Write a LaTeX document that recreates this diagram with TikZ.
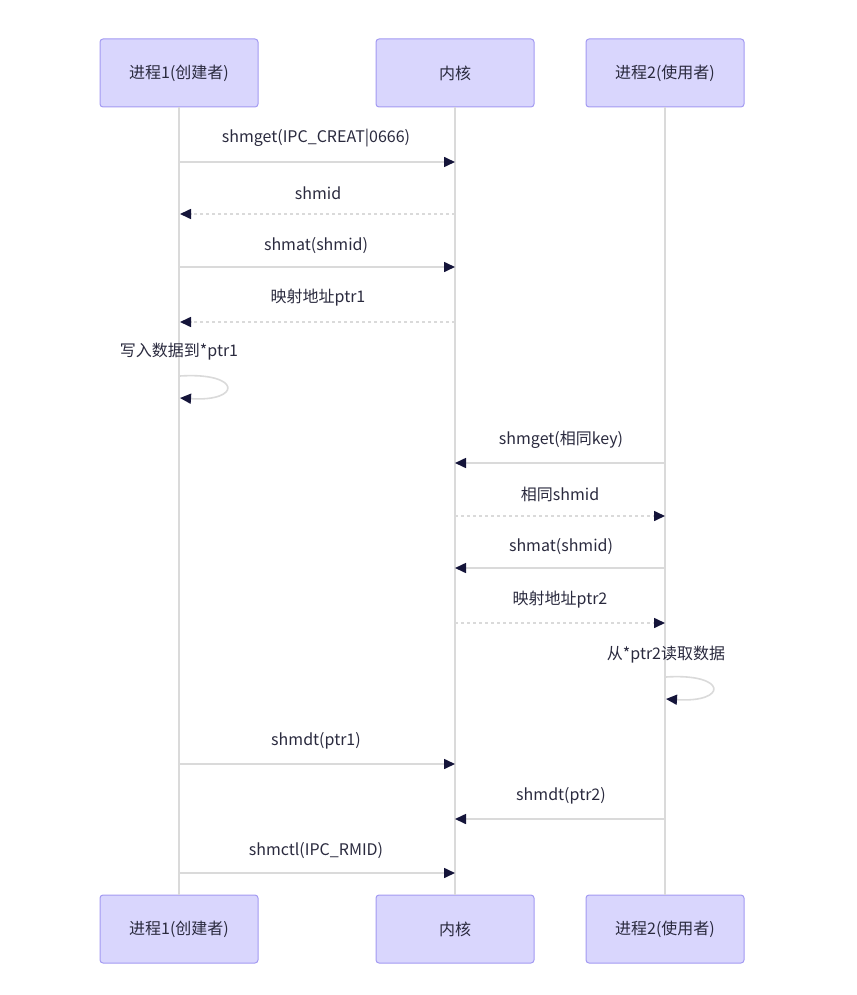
\documentclass[tikz,border=0pt]{standalone}
\usepackage{fontspec}
\setmainfont{Noto Sans CJK SC}
\usetikzlibrary{arrows.meta}
\definecolor{actfill}{HTML}{D9D6FD}
\definecolor{actdraw}{HTML}{A39AF2}
\definecolor{lifec}{HTML}{DADADA}
\definecolor{arrc}{HTML}{15153A}
\definecolor{txtc}{HTML}{2A2A3E}
\tikzset{
  actor/.style={draw=actdraw, fill=actfill, line width=1pt, rounded corners=3pt,
    minimum width=158pt, minimum height=68pt, inner sep=0pt, text=txtc,
    font=\fontsize{16pt}{19pt}\selectfont},
  lifeline/.style={draw=lifec, line width=1.6pt},
  msg/.style={draw=lifec, line width=1.6pt,
    -{Triangle[length=11pt,width=10pt,color=arrc]}},
  reply/.style={msg, dash pattern=on 3pt off 3pt},
  lbl/.style={text=txtc, inner sep=0pt, font=\fontsize{16pt}{19pt}\selectfont}
}
\begin{document}
\begin{tikzpicture}[x=1pt,y=-1pt]
\useasboundingbox (0,0) rectangle (856,995);
% actors
\node[actor] (a1) at (179,73) {进程1(创建者)};
\node[actor] (k1) at (455,73) {内核};
\node[actor] (a2) at (665,73) {进程2(使用者)};
\node[actor] (a1b) at (179,929) {进程1(创建者)};
\node[actor] (k1b) at (455,929) {内核};
\node[actor] (a2b) at (665,929) {进程2(使用者)};
% lifelines
\draw[lifeline] (a1.south) -- (a1b.north);
\draw[lifeline] (k1.south) -- (k1b.north);
\draw[lifeline] (a2.south) -- (a2b.north);
% coordinates on lifelines
\foreach \n/\y in {1/162,2/214,3/267,4/322,6/463,7/516,8/568,9/623,11/764,12/819,13/873}{
  \coordinate (p\n) at (180,\y);
  \coordinate (k\n) at (455,\y);
  \coordinate (q\n) at (665,\y);
}
% messages
\node[lbl] (t1) at (316,138) {shmget(IPC\_CREAT|0666)};
\draw[msg] (p1) -- (k1);
\node[lbl] (t2) at (318,193) {shmid};
\draw[reply] (k2) -- (p2);
\node[lbl] (t3) at (316,246) {shmat(shmid)};
\draw[msg] (p3) -- (k3);
\node[lbl] (t4) at (318,298) {映射地址ptr1};
\draw[reply] (k4) -- (p4);
% self loop 1
\node[lbl] (t5) at (179,352) {写入数据到*ptr1};
\coordinate (s5a) at (180,376);
\coordinate (s5b) at (180,398);
\draw[msg] (s5a) .. controls (242,372) and (242,402) .. (s5b);
% process 2
\node[lbl] (t6) at (561,440) {shmget(相同key)};
\draw[msg] (q6) -- (k6);
\node[lbl] (t7) at (560,494) {相同shmid};
\draw[reply] (k7) -- (q7);
\node[lbl] (t8) at (561,547) {shmat(shmid)};
\draw[msg] (q8) -- (k8);
\node[lbl] (t9) at (560,600) {映射地址ptr2};
\draw[reply] (k9) -- (q9);
% self loop 2
\node[lbl] (t10) at (666,655) {从*ptr2读取数据};
\coordinate (s10a) at (666,677);
\coordinate (s10b) at (666,699);
\draw[msg] (s10a) .. controls (728,673) and (728,703) .. (s10b);
% end
\node[lbl] (t11) at (316,741) {shmdt(ptr1)};
\draw[msg] (p11) -- (k11);
\node[lbl] (t12) at (561,796) {shmdt(ptr2)};
\draw[msg] (q12) -- (k12);
\node[lbl] (t13) at (316,851) {shmctl(IPC\_RMID)};
\draw[msg] (p13) -- (k13);
\end{tikzpicture}
\end{document}
